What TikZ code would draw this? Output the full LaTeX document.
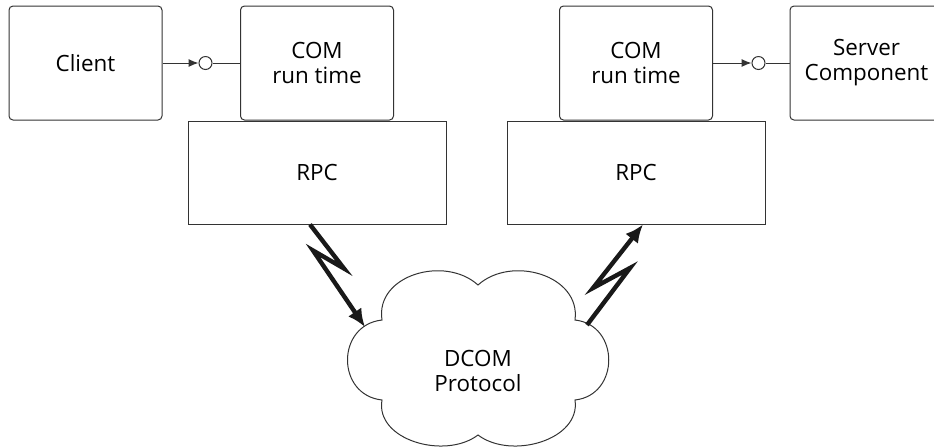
\documentclass[tikz,border=0pt]{standalone}
\usepackage{fontspec}
\setmainfont{Open Sans}
\usetikzlibrary{arrows.meta,positioning}

\begin{document}
\begin{tikzpicture}[x=0.5pt,y=-0.5pt,>={Latex[length=5pt,width=4pt]},
  font=\fontsize{11.2pt}{12.5pt}\selectfont,
  box/.style={draw=black!80,line width=0.5pt,rounded corners=2pt,minimum width=76.5pt,minimum height=57pt,align=center,inner sep=0pt},
  rpcbox/.style={draw=black!80,line width=0.5pt,minimum width=129pt,minimum height=51.5pt,inner sep=0pt},
  iface/.style={circle,draw=black!80,line width=0.5pt,minimum size=6.5pt,inner sep=0pt},
  link/.style={->,line width=0.5pt,draw=black!80},
  bolt/.style={-{Latex[length=9pt,width=8pt]},line width=2.2pt,draw=black!90}]
  \useasboundingbox (0,0) rectangle (934,447);

  \node[box]    (client)               at (85.5,63)  {Client};
  \node[box]    (coml)                 at (317,63)   {COM\\run time};
  \node[rpcbox] (rpcl) [below=0pt of coml]           {RPC};
  \node[box]    (comr)                 at (636,63)   {COM\\run time};
  \node[rpcbox] (rpcr) [below=0pt of comr]           {RPC};
  \node[box]    (server)               at (866.5,63) {Server\\Component};
  \node[iface]  (ifacel)               at (205.5,63) {};
  \node[iface]  (ifacer)               at (758.5,63) {};

  % the network
  \node[align=center] (proto) at (478,371) {DCOM\\Protocol};
  \draw[line width=0.5pt,draw=black!80]
    (382,320) .. controls (375,275) and (445,255) .. (478,285)
              .. controls (511,255) and (581,275) .. (575,320)
              .. controls (620,325) and (620,395) .. (575,400)
              .. controls (581,440) and (511,460) .. (478,435)
              .. controls (445,460) and (375,440) .. (382,400)
              .. controls (336,395) and (336,325) .. (382,320) -- cycle;
  \coordinate (inl)  at (365,327);
  \coordinate (outr) at (587,325);

  \draw[link] (client) -- (ifacel);
  \draw[line width=0.5pt,draw=black!80] (ifacel) -- (coml);
  \draw[link] (comr) -- (ifacer);
  \draw[line width=0.5pt,draw=black!80] (ifacer) -- (server);

  \draw[bolt] ([xshift=-3.5pt]rpcl.south) -- ++(34,44) -- ++(-31,-18) -- (inl);
  \draw[bolt] (outr) -- ++(43,-57) -- ++(-37,20) -- ([xshift=3.5pt]rpcr.south);
\end{tikzpicture}
\end{document}
